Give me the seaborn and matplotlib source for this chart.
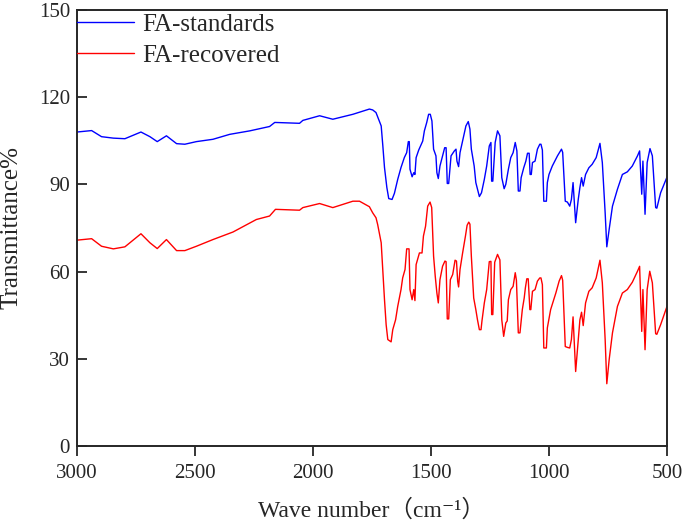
import numpy as np
import matplotlib as mpl
import matplotlib.pyplot as plt
import seaborn as sns
import pandas as pd

# FA-standards spectrum (wave number, transmittance)
wn_std = [3000, 2938, 2896, 2846, 2797, 2729, 2691, 2660, 2621, 2578, 2543, 2494, 2424, 2353,
          2268, 2184, 2162, 2057, 2043, 1972, 1916, 1831, 1761, 1747, 1733, 1711, 1704, 1697,
          1687, 1679, 1665, 1655, 1641, 1627, 1613, 1603, 1596, 1592, 1589, 1580, 1573, 1568,
          1563, 1552, 1535, 1528, 1518, 1510, 1503, 1496, 1489, 1479, 1475, 1469, 1462, 1451,
          1442, 1436, 1431, 1425, 1415, 1401, 1394, 1390, 1383, 1377, 1363, 1352, 1342, 1335,
          1329, 1317, 1310, 1303, 1295, 1286, 1274, 1264, 1253, 1246, 1243, 1238, 1228, 1218,
          1208, 1200, 1190, 1183, 1172, 1162, 1152, 1143, 1136, 1130, 1123, 1118, 1107, 1098,
          1091, 1084, 1080, 1075, 1070, 1059, 1049, 1039, 1034, 1028, 1022, 1011, 1007, 1000,
          986, 964, 947, 942, 931, 922, 912, 905, 898, 887, 876, 869, 862, 855, 845, 831, 817,
          800, 784, 774, 762, 755, 745, 731, 710, 689, 668, 647, 625, 616, 607, 602, 593, 584,
          572, 562, 548, 543, 527, 500]
t_std = [108.0, 108.5, 106.4, 105.9, 105.7, 108.0, 106.4, 104.7, 106.7, 104.0, 103.8, 104.7, 105.5, 107.2,
         108.4, 109.9, 111.3, 111.0, 112.0, 113.6, 112.4, 114.1, 115.9, 115.6, 114.7, 110.1, 103.2, 95.8,
         88.9, 85.1, 84.8, 86.9, 91.7, 95.8, 99.2, 100.9, 104.7, 104.7, 95.2, 92.6, 94.0, 93.4,
         99.2, 101.8, 104.9, 108.4, 111.3, 114.1, 114.1, 111.8, 102.1, 99.8, 94.0, 92.0, 96.3, 99.8,
         102.6, 102.6, 90.3, 90.3, 99.8, 101.5, 102.1, 98.0, 96.1, 100.9, 106.1, 110.1, 111.6, 109.0,
         102.1, 96.3, 90.6, 88.3, 85.8, 87.1, 91.7, 96.3, 103.2, 104.4, 91.1, 91.1, 104.4, 108.4,
         106.7, 92.3, 88.5, 90.0, 95.2, 99.2, 100.9, 104.4, 101.5, 87.7, 87.7, 92.3, 95.7, 98.0,
         100.7, 100.7, 93.4, 93.4, 97.5, 98.0, 102.1, 103.8, 103.8, 101.8, 84.2, 84.2, 90.6, 93.4,
         96.3, 99.8, 102.1, 101.0, 84.2, 83.9, 82.5, 84.8, 90.6, 76.8, 84.8, 88.9, 92.3, 89.4, 93.4, 95.7, 96.9,
         99.2, 104.1, 97.5, 80.2, 68.5, 74.5, 82.5, 88.3, 93.4, 94.3, 96.3, 99.8, 101.5, 86.6, 98.0, 79.7, 97.5,
         102.3, 99.8, 82.0, 81.8, 87.1, 92.5]

# FA-recovered spectrum
wn_rec = [3000, 2938, 2896, 2846, 2797, 2729, 2691, 2660, 2621, 2578, 2543, 2494, 2424, 2339,
          2240, 2184, 2159, 2057, 2043, 1972, 1916, 1831, 1803, 1761, 1747, 1733, 1726, 1711,
          1704, 1697, 1690, 1683, 1669, 1662, 1650, 1641, 1627, 1620, 1610, 1603, 1593, 1589,
          1580, 1573, 1568, 1563, 1549, 1538, 1532, 1523, 1514, 1504, 1497, 1489, 1482, 1475,
          1469, 1462, 1451, 1441, 1436, 1431, 1425, 1418, 1408, 1398, 1392, 1387, 1383, 1377,
          1366, 1354, 1347, 1340, 1335, 1329, 1319, 1310, 1303, 1295, 1288, 1284, 1274, 1264,
          1253, 1246, 1243, 1238, 1230, 1218, 1208, 1200, 1192, 1183, 1177, 1172, 1162, 1152,
          1143, 1138, 1130, 1123, 1113, 1105, 1100, 1094, 1088, 1081, 1077, 1070, 1059, 1049,
          1039, 1034, 1028, 1022, 1011, 1007, 993, 971, 957, 947, 942, 931, 922, 912, 905, 898,
          887, 876, 869, 862, 855, 845, 831, 817, 800, 784, 774, 762, 755, 745, 731, 710, 689,
          668, 647, 625, 616, 607, 602, 593, 584, 573, 562, 548, 543, 527, 500]
t_rec = [70.8, 71.3, 68.7, 67.8, 68.5, 73.0, 69.9, 67.9, 71.0, 67.2, 67.2, 68.7, 71.0, 73.6,
         77.9, 79.1, 81.4, 81.1, 82.0, 83.4, 82.0, 84.2, 84.2, 82.3, 80.2, 78.5, 76.2, 69.9,
         60.1, 50.3, 41.7, 36.6, 35.8, 40.0, 43.4, 48.0, 53.8, 57.8, 60.7, 67.8, 67.8, 53.8,
         50.3, 53.8, 50.0, 62.4, 66.4, 66.4, 72.2, 75.6, 82.5, 83.9, 82.0, 65.3, 58.4, 52.6,
         49.2, 57.2, 61.8, 63.6, 63.4, 43.7, 43.7, 57.2, 59.0, 63.9, 63.6, 56.7, 54.7, 60.7,
         66.4, 72.2, 75.9, 77.0, 76.3, 65.3, 50.9, 46.9, 43.4, 40.0, 40.0, 43.0, 49.2, 53.8,
         63.4, 63.5, 45.2, 45.2, 63.2, 65.9, 64.0, 43.4, 37.7, 42.3, 43.0, 50.3, 53.8, 54.9,
         59.6, 57.0, 38.9, 38.9, 46.9, 50.9, 54.4, 57.5, 57.5, 46.9, 46.9, 53.2, 53.8, 56.7,
         57.8, 57.8, 55.5, 33.7, 33.7, 40.6, 46.9, 52.6, 56.7, 58.6, 57.0, 34.2, 33.9, 33.7, 36.6, 44.4,
         25.6, 36.6, 43.4, 46.0, 41.4, 49.2, 53.2, 54.4, 57.8, 63.9, 56.1, 36.6, 21.4, 29.7, 38.9, 48.0, 52.6,
         53.8, 56.3, 60.1, 61.8, 39.4, 53.8, 33.1, 53.8, 60.1, 56.1, 38.6, 38.4, 41.7, 48.0]

labels = ['FA-standards', 'FA-recovered']

df = pd.concat([
    pd.DataFrame({'wn': wn_std, 't': t_std, 'sample': labels[0]}),
    pd.DataFrame({'wn': wn_rec, 't': t_rec, 'sample': labels[1]}),
])

sns.set_style('ticks')
plt.rcParams['font.family'] = ['Liberation Serif', 'Noto Sans CJK SC', 'DejaVu Sans']

fig = plt.figure(figsize=(6.85, 5.24), dpi=100)
ax = fig.add_axes([0.1124, 0.149, 0.8613, 0.832])

sns.lineplot(data=df, x='wn', y='t', hue='sample', hue_order=labels,
             palette=['#0000FF', '#FF0000'], estimator=None, sort=False,
             linewidth=1.0, ax=ax)

ax.set_xlim(3000, 500)
ax.set_ylim(0, 150)
ax.set_xticks([3000, 2500, 2000, 1500, 1000, 500])
ax.set_yticks([0, 30, 60, 90, 120, 150])
ax.tick_params(axis='x', direction='out', length=7, width=1.3, labelsize=15, pad=6)
ax.tick_params(axis='y', direction='in', length=7, width=1.3, labelsize=15, pad=5)
for s in ax.spines.values():
    s.set_visible(True)
    s.set_linewidth(1.4)

ax.set_xlabel('Wave number（cm⁻¹）', fontsize=17, labelpad=12)
ax.set_ylabel('Transmittance%', fontsize=18, labelpad=12)

ax.legend(loc='upper left', bbox_to_anchor=(0, 0.993), frameon=False, fontsize=18,
          borderaxespad=0, borderpad=0, handlelength=2.3, handletextpad=0.3,
          labelspacing=0.35)

fig.savefig('out.png', dpi=100)
